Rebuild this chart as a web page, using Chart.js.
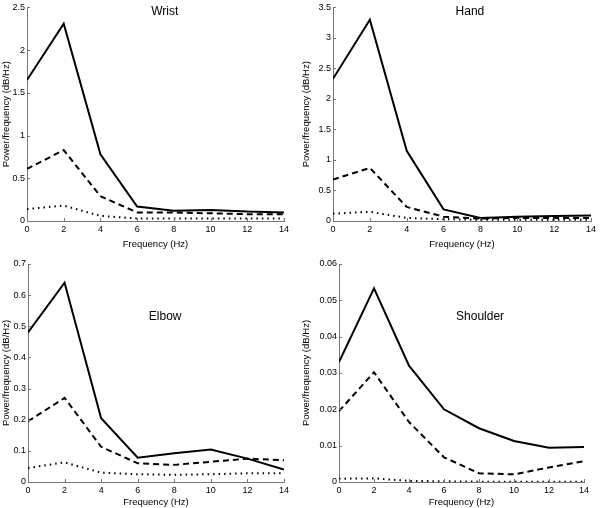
<!DOCTYPE html>
<html>
<head>
<meta charset="utf-8">
<script src="https://cdn.jsdelivr.net/npm/chart.js@4.4.1/dist/chart.umd.min.js"></script>
<style>
  body { margin: 0; background: #fff; }
  canvas { position: absolute; }
</style>
</head>
<body>
<canvas id="wrist" width="300" height="254" style="left:0;top:0"></canvas>
<canvas id="hand" width="300" height="254" style="left:300px;top:0"></canvas>
<canvas id="elbow" width="300" height="254" style="left:0;top:254px"></canvas>
<canvas id="shoulder" width="300" height="254" style="left:300px;top:254px"></canvas>
<script>
const freqs = [0, 2, 4, 6, 8, 10, 12, 14];

const wristSolid = [1.65, 2.31, 0.78, 0.17, 0.12, 0.13, 0.11, 0.10];
const wristDashed = [0.61, 0.83, 0.29, 0.10, 0.10, 0.09, 0.08, 0.08];
const wristDotted = [0.14, 0.18, 0.06, 0.03, 0.03, 0.03, 0.03, 0.03];

const handSolid = [2.33, 3.30, 1.15, 0.19, 0.05, 0.07, 0.08, 0.09];
const handDashed = [0.68, 0.87, 0.23, 0.07, 0.04, 0.05, 0.05, 0.05];
const handDotted = [0.12, 0.15, 0.05, 0.03, 0.02, 0.02, 0.02, 0.02];

const elbowSolid = [0.48, 0.64, 0.205, 0.078, 0.092, 0.104, 0.075, 0.04];
const elbowDashed = [0.195, 0.27, 0.113, 0.06, 0.055, 0.065, 0.075, 0.07];
const elbowDotted = [0.045, 0.063, 0.03, 0.025, 0.023, 0.025, 0.028, 0.028];

const shoulderSolid = [0.033, 0.0533, 0.032, 0.020, 0.0148, 0.0113, 0.0094, 0.0096];
const shoulderDashed = [0.0195, 0.0302, 0.0165, 0.0068, 0.0024, 0.0021, 0.004, 0.0057];
const shoulderDotted = [0.0009, 0.001, 0.0003, 0.0002, 0.0001, 0.0001, 0.0001, 0.0001];

const xTicks = [0, 2, 4, 6, 8, 10, 12, 14];
const wristTicks = [0, 0.5, 1, 1.5, 2, 2.5];
const handTicks = [0, 0.5, 1, 1.5, 2, 2.5, 3, 3.5];
const elbowTicks = [0, 0.1, 0.2, 0.3, 0.4, 0.5, 0.6, 0.7];
const shoulderTicks = [0, 0.01, 0.02, 0.03, 0.04, 0.05, 0.06];

const FONT = "'Liberation Sans', Arial, sans-serif";

// small ticks pointing into the plot, like matlab
const innerTicks = {
  id: "innerTicks",
  afterDraw(chart) {
    const { ctx, scales: { x, y } } = chart;
    ctx.save();
    ctx.strokeStyle = "#777";
    ctx.lineWidth = 1;
    ctx.beginPath();
    x.ticks.forEach((t) => {
      const px = Math.round(x.getPixelForValue(t.value)) + 0.5;
      ctx.moveTo(px, y.bottom);
      ctx.lineTo(px, y.bottom - 3);
    });
    y.ticks.forEach((t) => {
      const py = Math.round(y.getPixelForValue(t.value)) + 0.5;
      ctx.moveTo(x.left, py);
      ctx.lineTo(x.left + 3, py);
    });
    ctx.stroke();
    ctx.restore();
  },
};

// panel name drawn inside the plot area
const panelLabel = {
  id: "panelLabel",
  afterDatasetsDraw(chart, args, opts) {
    const { ctx, scales: { x, y } } = chart;
    ctx.save();
    ctx.fillStyle = "#000";
    ctx.font = "12px " + FONT;
    ctx.textAlign = "center";
    ctx.textBaseline = "middle";
    ctx.fillText(opts.text, x.getPixelForValue(opts.x), y.getPixelForValue(opts.y));
    ctx.restore();
  },
};

const plainNum = (v) => String(+Number(v).toFixed(4));

function makeChart(id, solid, dashed, dotted, yTicks, label, box) {
  const line = (data, dash, width) => ({
    data: freqs.map((f, i) => ({ x: f, y: data[i] })),
    borderColor: "#000",
    borderWidth: width,
    borderDash: dash,
    pointRadius: 0,
    tension: 0,
    fill: false,
  });
  const yMax = yTicks[yTicks.length - 1];
  return new Chart(document.getElementById(id), {
    type: "line",
    data: {
      datasets: [
        line(solid, [], 2),
        line(dashed, [6, 4], 2),
        line(dotted, [1.5, 4], 2),
      ],
    },
    plugins: [innerTicks, panelLabel],
    options: {
      responsive: false,
      animation: false,
      layout: { padding: { top: box.top, right: box.right, left: 0, bottom: box.bottom } },
      plugins: {
        legend: { display: false },
        tooltip: { enabled: false },
        panelLabel: label,
      },
      scales: {
        x: {
          type: "linear",
          min: 0,
          max: 14,
          afterBuildTicks: (s) => { s.ticks = xTicks.map((v) => ({ value: v })); },
          afterFit: (s) => { s.height = box.xHeight; },
          ticks: { color: "#000", font: { family: FONT, size: 9 }, padding: 3, maxRotation: 0, callback: plainNum },
          grid: { drawOnChartArea: false, drawTicks: false },
          border: { color: "#777", width: 1 },
          title: { display: true, text: "Frequency (Hz)", color: "#000", font: { family: FONT, size: 9.5 }, padding: { top: 3, bottom: 0 } },
        },
        y: {
          min: 0,
          max: yMax,
          afterBuildTicks: (s) => { s.ticks = yTicks.map((v) => ({ value: v })); },
          afterFit: (s) => { s.width = box.left; },
          ticks: { color: "#000", font: { family: FONT, size: 9 }, padding: 2, callback: plainNum },
          grid: { drawOnChartArea: false, drawTicks: false },
          border: { color: "#777", width: 1 },
          title: { display: true, text: "Power/frequency (dB/Hz)", color: "#000", font: { family: FONT, size: 9.5 }, padding: { top: 1, bottom: 0 } },
        },
      },
    },
  });
}

makeChart("wrist", wristSolid, wristDashed, wristDotted, wristTicks,
  { text: "Wrist", x: 7.5, y: 2.45 }, { left: 27, right: 16, top: 4, bottom: 4, xHeight: 29 });
makeChart("hand", handSolid, handDashed, handDotted, handTicks,
  { text: "Hand", x: 7.43, y: 3.43 }, { left: 33, right: 9, top: 4, bottom: 4, xHeight: 29 });
makeChart("elbow", elbowSolid, elbowDashed, elbowDotted, elbowTicks,
  { text: "Elbow", x: 7.5, y: 0.53 }, { left: 28, right: 16, top: 10, bottom: 0, xHeight: 26 });
makeChart("shoulder", shoulderSolid, shoulderDashed, shoulderDotted, shoulderTicks,
  { text: "Shoulder", x: 8.06, y: 0.0454 }, { left: 39, right: 16, top: 10, bottom: 0, xHeight: 26 });
</script>
</body>
</html>
